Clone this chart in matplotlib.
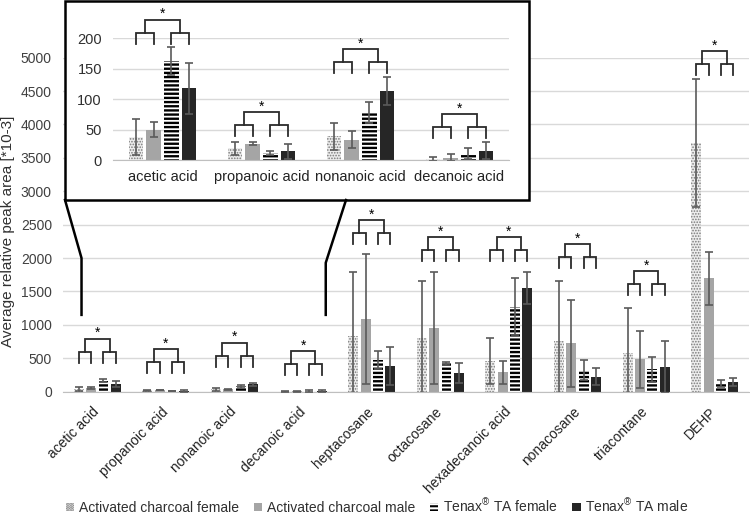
import matplotlib
matplotlib.use("Agg")
import matplotlib.pyplot as plt
import numpy as np
from matplotlib.patches import Rectangle, Patch
from matplotlib.lines import Line2D

plt.rcParams['font.family'] = ['Liberation Sans', 'DejaVu Sans']
plt.rcParams['hatch.linewidth'] = 1.5
plt.rcParams['mathtext.fontset'] = 'custom'
plt.rcParams['mathtext.rm'] = 'Liberation Sans'

# ---------------- data ----------------
categories = ['acetic acid', 'propanoic acid', 'nonanoic acid', 'decanoic acid',
              'heptacosane', 'octacosane', 'hexadecanoic acid', 'nonacosane',
              'triacontane', 'DEHP']
series_names = ['Activated charcoal female', 'Activated charcoal male',
                'Tenax$^{\\mathrm{®}}$ TA female', 'Tenax$^{\\mathrm{®}}$ TA male']

charcoal_female = [38, 19, 39, 2, 835, 800, 460, 765, 585, 3725]
charcoal_female_err = [29, 11, 22, 3, 955, 860, 340, 895, 665, 960]
charcoal_male = [50, 27, 33, 4, 1090, 950, 290, 725, 485, 1700]
charcoal_male_err = [13, 3, 14, 6, 970, 835, 170, 650, 430, 395]
tenax_female = [162, 11, 78, 10, 475, 425, 1275, 325, 335, 125]
tenax_female_err = [23, 3, 18, 9, 135, 20, 420, 145, 190, 50]
tenax_male = [118, 14, 113, 15, 390, 280, 1555, 225, 375, 140]
tenax_male_err = [42, 12, 23, 14, 285, 155, 240, 130, 390, 60]

# significance bracket base heights (bottom of legs)
bracket_main = [435, 276, 375, 250, 2210, 1950, 1950, 1845, 1450, 4735]
inset_categories = categories[:4]
bracket_inset = [191, 39, 143, 36]

main_yticks = [0, 500, 1000, 1500, 2000, 2500, 3000, 3500, 4000, 4500, 5000]
inset_yticks = [0, 50, 100, 150, 200]

# ---------------- styles ----------------
styles = [
    dict(facecolor='#ededed', edgecolor='#7a7a7a', hatch='......', linewidth=0),
    dict(facecolor='#a5a5a5', edgecolor='#a5a5a5', linewidth=0),
    dict(facecolor='white', edgecolor='black', hatch='----', linewidth=0),
    dict(facecolor='#262626', edgecolor='#262626', linewidth=0),
]
values = [charcoal_female, charcoal_male, tenax_female, tenax_male]
errors = [charcoal_female_err, charcoal_male_err, tenax_female_err, tenax_male_err]

pitch = 0.18
bw = 0.145
offsets = [(-1.5 + i) * pitch for i in range(4)]
GRID = '#d9d9d9'
ERR = '#5a5a5a'


def draw_bars(ax, n, capsize):
    x = np.arange(n)
    for i in range(4):
        v = np.array(values[i][:n])
        e = np.array(errors[i][:n])
        bars = ax.bar(x + offsets[i], v, bw, zorder=2, **styles[i])
        for b in bars:
            if hasattr(b, 'set_hatch_linewidth'):
                b.set_hatch_linewidth(1.7 if i == 2 else 0.8)
        ax.errorbar(x + offsets[i], v, yerr=e, fmt='none', ecolor=ERR,
                    elinewidth=1.2, capsize=capsize, capthick=1.2, zorder=3)


def draw_brackets(ax, bases, leg_px, gap_px, star_px, fs):
    fig = ax.figure
    y0, y1 = ax.get_ylim()
    hpx = ax.get_position().height * fig.get_figheight() * fig.dpi
    u = (y1 - y0) / hpx
    for k, b in enumerate(bases):
        xs = [k + o for o in offsets]
        sub = b + leg_px * u
        top = sub + gap_px * u
        kw = dict(color='#2b2b2b', lw=1.3, clip_on=False, zorder=4,
                  solid_joinstyle='miter')
        ax.plot([xs[0], xs[0], xs[1], xs[1]], [b, sub, sub, b], **kw)
        ax.plot([xs[2], xs[2], xs[3], xs[3]], [b, sub, sub, b], **kw)
        m1 = (xs[0] + xs[1]) / 2
        m2 = (xs[2] + xs[3]) / 2
        ax.plot([m1, m1, m2, m2], [sub, top, top, sub], **kw)
        ax.text((m1 + m2) / 2, top + star_px * u, '*', ha='center',
                va='baseline', fontsize=fs, clip_on=False, zorder=4)


fig = plt.figure(figsize=(7.5, 5.16), dpi=100)

# ---------------- main axes ----------------
ax = fig.add_axes([0.084, 0.2409, 0.9147, 0.6473])
ax.set_zorder(0)
n = len(categories)
draw_bars(ax, n, 2.6)
ax.set_xlim(-0.5, n - 0.5)
ax.set_ylim(0, 5000)
ax.set_yticks(main_yticks)
ax.set_yticklabels([str(t) for t in main_yticks], fontsize=10, color='#404040')
ax.yaxis.grid(True, color=GRID, lw=1.0, zorder=0)
ax.set_axisbelow(True)
for s in ['top', 'right', 'left']:
    ax.spines[s].set_visible(False)
ax.spines['bottom'].set_color('#bfbfbf')
ax.tick_params(axis='y', length=0, pad=8)
ax.tick_params(axis='x', length=0, pad=13)
ax.set_xticks(np.arange(n))
ax.set_xticklabels(categories, rotation=45, ha='right', va='center',
                   rotation_mode='anchor', fontsize=10,
                   family=['Liberation Sans Narrow', 'Liberation Sans'],
                   color='#222222')
ax.set_ylabel('Average relative peak area [*10-3]', fontsize=11,
              color='#303030', labelpad=1)
ax.yaxis.set_label_coords(-0.0695, 0.48)
draw_brackets(ax, bracket_main, 11, 13, 1.5, 10)

# ---------------- inset box ----------------
box = Rectangle((0.0867, 0.6124), 0.6187, 0.3857, transform=fig.transFigure,
                facecolor='white', edgecolor='black', lw=1.8, zorder=1)
fig.add_artist(box)


def data_to_fig(x, y):
    d = ax.transData.transform((x, y))
    return fig.transFigure.inverted().transform(d)

l_low = data_to_fig(-0.23, 1150)
l_mid = data_to_fig(-0.23, 2000)
r_low = data_to_fig(3.33, 1150)
r_mid = data_to_fig(3.33, 1930)
left_top = (0.0867, 0.6124)
right_top = (346 / 750, 0.6124)
fig.add_artist(Line2D([left_top[0], l_mid[0], l_low[0]],
                      [left_top[1], l_mid[1], l_low[1]],
                      transform=fig.transFigure, color='black', lw=1.8, zorder=1))
fig.add_artist(Line2D([right_top[0], r_mid[0], r_low[0]],
                      [right_top[1], r_mid[1], r_low[1]],
                      transform=fig.transFigure, color='black', lw=1.8, zorder=1))

# ---------------- inset axes ----------------
ni = len(inset_categories)
axi = fig.add_axes([0.1507, 0.6899, 0.528, 0.2359])
axi.set_zorder(2)
axi.patch.set_visible(False)
draw_bars(axi, ni, 3.2)
axi.set_xlim(-0.5, ni - 0.5)
axi.set_ylim(0, 200)
axi.set_yticks(inset_yticks)
axi.set_yticklabels([str(t) for t in inset_yticks], fontsize=10.5, color='#303030')
axi.yaxis.grid(True, color=GRID, lw=1.0, zorder=0)
axi.set_axisbelow(True)
for s in ['top', 'right', 'left']:
    axi.spines[s].set_visible(False)
axi.spines['bottom'].set_color('#bfbfbf')
axi.tick_params(axis='y', length=0, pad=8)
axi.tick_params(axis='x', length=0, pad=7)
axi.set_xticks(np.arange(ni))
axi.set_xticklabels(inset_categories, fontsize=10.5, color='#222222')
draw_brackets(axi, bracket_inset, 11, 13, 1.5, 10)

# ---------------- legend ----------------
handles = [Patch(**styles[i], label=series_names[i]) for i in range(4)]
leg = fig.legend(handles=handles, loc='lower center', bbox_to_anchor=(0.503, -0.022),
                 ncol=4, frameon=False, fontsize=10, handlelength=0.6,
                 handleheight=0.6, handletextpad=0.35, columnspacing=1.05)
for t in leg.get_texts():
    t.set_color('#303030')

fig.savefig('out.png', dpi=100)
